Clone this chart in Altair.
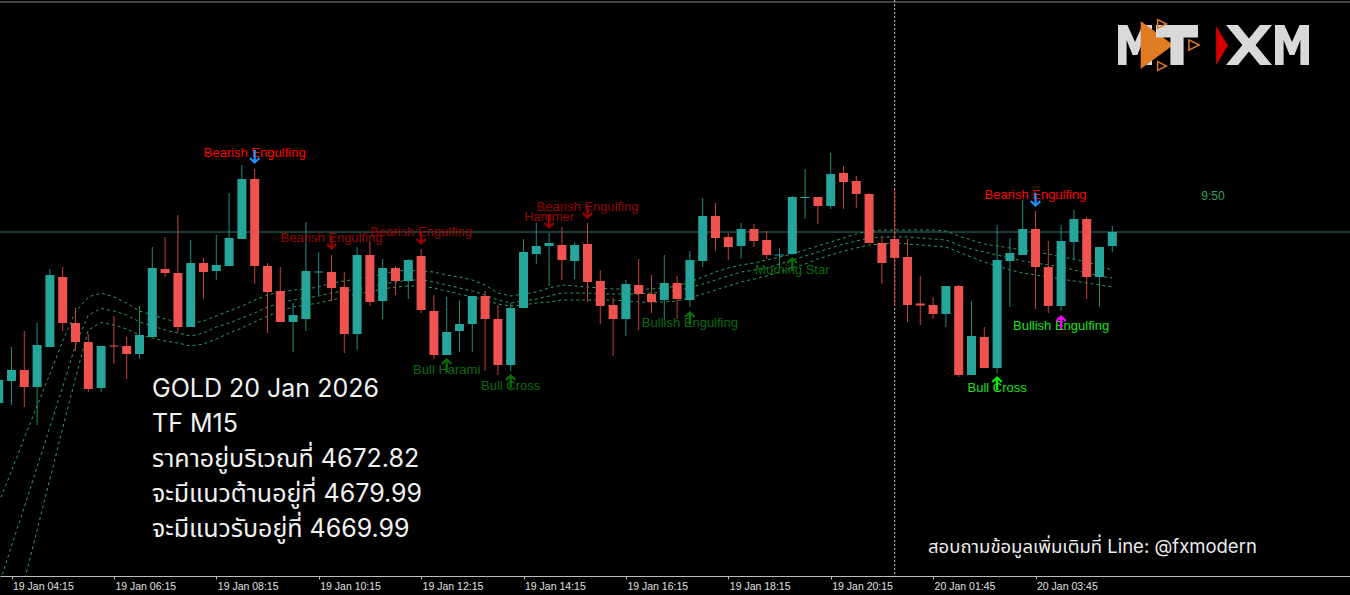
import altair as alt
import pandas as pd

# ---------------------------------------------------------------------------
# GOLD, M15 bars. Bar index 0 = 19 Jan 04:15; index -1 is the bar cut by the left edge.
# ---------------------------------------------------------------------------
BAR_INDEX = list(range(-1, 87))

OPEN = [4630.07, 4635.57, 4638.32, 4634.07, 4644.07, 4661.57, 4650.07, 4645.32, 4633.82, 4644.45,
        4644.32, 4642.32, 4646.57, 4663.57, 4662.57, 4649.07, 4665.07, 4663.07, 4664.32, 4671.07,
        4686.07, 4664.32, 4658.07, 4650.32, 4651.07, 4662.70, 4662.82, 4659.07, 4647.32, 4667.07,
        4655.57, 4663.82, 4660.57, 4666.82, 4653.07, 4642.07, 4648.07, 4649.82, 4656.82, 4651.07,
        4639.57, 4653.82, 4667.32, 4669.32, 4669.57, 4665.57, 4669.82, 4660.57, 4654.57, 4651.07,
        4659.57, 4657.32, 4655.82, 4660.07, 4655.82, 4665.57, 4676.82, 4671.57, 4669.32, 4673.57,
        4670.82, 4666.95, 4667.32, 4681.32, 4681.57, 4679.32, 4687.57, 4685.57, 4682.32, 4670.07,
        4671.07, 4666.57, 4654.95, 4654.57, 4652.32, 4659.32, 4637.07, 4646.57, 4638.82, 4665.57,
        4667.07, 4673.57, 4664.07, 4654.32, 4670.32, 4676.07, 4661.57, 4669.32]

HIGH = [4636.82, 4644.07, 4648.07, 4650.07, 4663.57, 4664.07, 4653.82, 4647.32, 4644.32, 4651.82,
        4646.57, 4654.32, 4669.07, 4671.57, 4677.07, 4670.82, 4666.32, 4672.07, 4682.57, 4689.57,
        4688.57, 4665.07, 4664.07, 4655.07, 4675.32, 4667.82, 4667.07, 4662.82, 4669.07, 4670.32,
        4666.07, 4664.32, 4666.07, 4668.57, 4657.07, 4656.57, 4655.82, 4656.82, 4658.07, 4654.57,
        4655.07, 4671.07, 4675.07, 4672.57, 4674.07, 4670.32, 4675.07, 4663.32, 4656.32, 4660.82,
        4666.07, 4662.07, 4667.07, 4661.82, 4668.07, 4681.32, 4680.07, 4672.57, 4675.07, 4674.82,
        4673.07, 4668.82, 4681.82, 4688.57, 4681.57, 4692.57, 4689.32, 4686.82, 4682.57, 4671.57,
        4683.57, 4671.07, 4661.82, 4656.57, 4659.32, 4659.57, 4655.57, 4649.07, 4674.57, 4671.32,
        4680.82, 4678.07, 4670.57, 4674.57, 4678.32, 4676.57, 4669.07, 4674.32]

LOW = [4628.32, 4629.57, 4629.07, 4624.57, 4644.07, 4648.07, 4643.07, 4632.82, 4632.82, 4639.82,
       4636.07, 4641.07, 4646.57, 4661.57, 4647.82, 4649.07, 4656.07, 4660.82, 4664.32, 4671.07,
       4659.82, 4647.57, 4650.32, 4642.82, 4648.07, 4657.07, 4655.57, 4642.57, 4643.32, 4654.32,
       4651.07, 4657.07, 4656.07, 4652.57, 4641.07, 4642.07, 4642.82, 4642.82, 4638.07, 4637.07,
       4638.07, 4653.82, 4664.82, 4659.32, 4660.82, 4661.07, 4655.32, 4649.82, 4641.82, 4646.82,
       4648.32, 4652.57, 4650.82, 4651.07, 4654.07, 4664.07, 4668.07, 4665.82, 4666.07, 4669.07,
       4666.07, 4664.07, 4667.32, 4676.07, 4674.82, 4678.57, 4678.57, 4678.82, 4670.07, 4659.82,
       4654.32, 4650.32, 4649.57, 4651.07, 4649.07, 4636.57, 4637.07, 4638.82, 4637.57, 4654.07,
       4667.07, 4653.57, 4652.57, 4653.07, 4665.82, 4656.07, 4654.07, 4667.82]

CLOSE = [4635.82, 4638.32, 4634.07, 4644.57, 4662.07, 4650.07, 4645.32, 4633.57, 4644.32, 4644.20,
         4642.32, 4647.07, 4663.82, 4662.57, 4649.07, 4665.07, 4662.82, 4664.57, 4671.32, 4686.07,
         4664.32, 4657.82, 4650.32, 4652.07, 4663.07, 4662.95, 4658.82, 4647.32, 4667.07, 4655.32,
         4663.82, 4660.57, 4665.82, 4653.32, 4642.07, 4647.82, 4649.82, 4656.82, 4651.07, 4639.57,
         4653.82, 4667.82, 4669.32, 4670.07, 4665.82, 4669.57, 4660.32, 4654.32, 4651.07, 4659.82,
         4657.32, 4655.32, 4660.07, 4656.07, 4665.82, 4676.82, 4671.32, 4669.07, 4673.57, 4670.57,
         4667.07, 4667.20, 4681.57, 4681.57, 4679.32, 4687.32, 4685.32, 4682.32, 4670.07, 4665.07,
         4666.32, 4654.57, 4654.45, 4652.32, 4659.32, 4637.07, 4646.82, 4638.82, 4665.82, 4667.57,
         4673.57, 4664.07, 4654.32, 4670.57, 4676.07, 4661.57, 4669.07, 4672.82]

# Envelope bands (upper / middle / lower), one value per bar
BAND_UPPER = [4605.07, 4613.07, 4621.32, 4629.32, 4637.32, 4645.57, 4652.82, 4656.57, 4657.57, 4656.57,
              4655.07, 4653.07, 4652.07, 4651.07, 4650.32, 4649.82, 4650.57, 4651.82, 4653.07, 4654.32,
              4655.82, 4657.07, 4657.82, 4658.32, 4658.57, 4659.07, 4660.07, 4660.57, 4661.07, 4661.57,
              4662.32, 4663.07, 4663.20, 4663.07, 4662.82, 4662.07, 4661.57, 4660.82, 4659.57, 4657.57,
              4656.82, 4657.32, 4657.82, 4658.82, 4659.57, 4659.32, 4659.07, 4658.82, 4658.57, 4658.57,
              4658.57, 4658.57, 4658.82, 4659.32, 4660.32, 4661.57, 4662.82, 4663.82, 4664.57, 4665.07,
              4665.82, 4666.57, 4667.32, 4668.32, 4669.32, 4670.32, 4671.32, 4672.32, 4673.07, 4673.32,
              4673.32, 4673.32, 4673.32, 4673.32, 4673.07, 4671.82, 4670.82, 4669.82, 4669.32, 4668.82,
              4668.32, 4667.82, 4667.32, 4666.57, 4666.07, 4665.32, 4664.32, 4663.32]

BAND_MIDDLE = [4584.32, 4594.32, 4604.07, 4614.07, 4624.07, 4634.07, 4644.57, 4652.07, 4653.70, 4653.07,
               4652.07, 4650.32, 4649.32, 4648.32, 4647.57, 4646.82, 4647.57, 4649.07, 4650.07, 4651.32,
               4652.57, 4654.07, 4655.07, 4655.82, 4656.32, 4656.82, 4657.57, 4658.07, 4658.57, 4659.07,
               4659.82, 4660.32, 4660.82, 4660.82, 4660.32, 4659.57, 4658.82, 4658.07, 4657.07, 4655.82,
               4655.07, 4655.57, 4656.07, 4656.82, 4657.57, 4657.57, 4657.57, 4657.32, 4657.32, 4657.32,
               4657.32, 4657.57, 4657.82, 4658.32, 4658.82, 4659.82, 4660.82, 4661.82, 4662.82, 4663.32,
               4663.82, 4664.82, 4665.82, 4666.82, 4667.82, 4668.82, 4669.82, 4670.57, 4671.32, 4671.57,
               4671.57, 4671.57, 4671.32, 4671.07, 4670.82, 4669.57, 4668.57, 4667.82, 4667.07, 4666.32,
               4665.57, 4665.07, 4664.57, 4664.07, 4663.32, 4662.57, 4661.82, 4661.32]

BAND_LOWER = [4560.07, 4572.82, 4585.57, 4598.32, 4611.07, 4623.82, 4636.32, 4648.32, 4650.20, 4649.57,
              4648.57, 4647.07, 4646.32, 4645.57, 4645.07, 4644.32, 4644.82, 4646.07, 4647.57, 4648.82,
              4650.32, 4651.82, 4653.07, 4654.07, 4654.57, 4655.07, 4655.82, 4656.57, 4657.32, 4657.82,
              4658.57, 4659.07, 4659.32, 4659.32, 4658.82, 4658.07, 4657.32, 4656.57, 4655.82, 4654.82,
              4654.32, 4654.57, 4655.07, 4655.32, 4655.82, 4655.82, 4655.82, 4655.82, 4655.82, 4655.57,
              4655.32, 4655.32, 4655.32, 4655.57, 4656.32, 4657.32, 4658.32, 4659.32, 4660.32, 4661.07,
              4661.82, 4662.82, 4663.82, 4664.82, 4666.07, 4667.07, 4668.07, 4668.82, 4669.57, 4669.82,
              4670.07, 4669.82, 4669.57, 4669.32, 4669.07, 4667.82, 4666.57, 4665.32, 4664.32, 4663.32,
              4662.57, 4662.07, 4661.57, 4661.07, 4660.57, 4660.07, 4659.57, 4659.07]

# Candle-pattern signals
PATTERN_LABEL = ["Bearish Engulfing", "Bearish Engulfing", "Bearish Engulfing", "Hammer",
                 "Bearish Engulfing", "Bull Harami", "Bull Cross", "Bullish Engulfing",
                 "Morning Star", "Bearish Engulfing", "Bull Cross", "Bullish Engulfing"]
PATTERN_BAR = [19, 25, 32, 42, 45, 34, 39, 53, 61, 80, 77, 82]
PATTERN_SIDE = ["sell", "sell", "sell", "sell", "sell", "buy", "buy", "buy", "buy", "sell", "buy", "buy"]
PATTERN_STATE = ["fresh", "old", "old", "old", "old", "old", "old", "old", "old", "fresh", "fresh", "fresh"]
PATTERN_KIND = ["engulf", "engulf", "engulf", "hammer", "engulf", "harami", "cross", "engulf",
                "star", "engulf", "cross", "engulf"]
PATTERN_LABEL_PRICE = [4692.57, 4671.32, 4672.70, 4676.45, 4679.07, 4638.32, 4634.20, 4650.07,
                       4663.32, 4682.07, 4633.70, 4649.20]
PATTERN_ARROW_PRICE = [4691.57, 4670.07, 4671.32, 4675.32, 4677.82, 4639.57, 4635.57, 4651.32,
                       4664.82, 4680.82, 4635.07, 4650.32]

BID_PRICE = [4672.82]
DAY_START_BAR = [69]

TICK_BARS = [0, 8, 16, 24, 32, 40, 48, 56, 64, 72, 80]
TICK_LABELS = ["19 Jan 04:15", "19 Jan 06:15", "19 Jan 08:15", "19 Jan 10:15", "19 Jan 12:15",
               "19 Jan 14:15", "19 Jan 16:15", "19 Jan 18:15", "19 Jan 20:15", "20 Jan 01:45",
               "20 Jan 03:45"]

INFO_LINES = ["GOLD 20 Jan 2026", "TF M15", "ราคาอยู่บริเวณที่ 4672.82",
              "จะมีแนวต้านอยู่ที่ 4679.99", "จะมีแนวรับอยู่ที่ 4669.99"]
FOOTER = "สอบถามข้อมูลเพิ่มเติมที่ Line: @fxmodern"
COUNTDOWN = "9:50"

# ---------------------------------------------------------------------------
# Styling
# ---------------------------------------------------------------------------
W, H = 1350, 576
TEAL, RED = "#26a69a", "#ef5350"
TEAL_WICK, RED_WICK = "#1f8a80", "#c2403d"
BAND_COLOR = "#2e9d5e"
THAI_FONT = "Inter, 'Noto Sans Thai', 'Noto Sans', sans-serif"
LABEL_FONT = "Liberation Sans"

TEXT_COLORS = {("sell", "fresh"): "#ff0000", ("sell", "old"): "#9a0000",
               ("buy", "fresh"): "#19e019", ("buy", "old"): "#0b6e0b"}
ARROW_COLORS = {("sell", "fresh"): "#1e90ff", ("sell", "old"): "#9a0000",
                ("buy", "old"): "#0b6e0b", ("buy", "fresh"): "#00ee00"}
ARROW_DOWN = ("M-0.16,-1 L0.16,-1 L0.16,0.42 L0.56,0.02 L0.78,0.24 L0,1 "
              "L-0.78,0.24 L-0.56,0.02 L-0.16,0.42 Z")
ARROW_UP = ("M-0.16,1 L0.16,1 L0.16,-0.42 L0.56,-0.02 L0.78,-0.24 L0,-1 "
            "L-0.78,-0.24 L-0.56,-0.02 L-0.16,-0.42 Z")

bars = pd.DataFrame({"k": BAR_INDEX, "open": OPEN, "high": HIGH, "low": LOW, "close": CLOSE})
rising = bars["close"] >= bars["open"]
bars["body_color"] = rising.map({True: TEAL, False: RED})
bars["wick_color"] = rising.map({True: TEAL_WICK, False: RED_WICK})

bands = pd.concat([
    pd.DataFrame({"k": BAR_INDEX, "value": BAND_UPPER, "band": "upper"}),
    pd.DataFrame({"k": BAR_INDEX, "value": BAND_MIDDLE, "band": "middle"}),
    pd.DataFrame({"k": BAR_INDEX, "value": BAND_LOWER, "band": "lower"}),
])

signals = pd.DataFrame({"k": PATTERN_BAR, "label": PATTERN_LABEL, "side": PATTERN_SIDE,
                        "state": PATTERN_STATE, "kind": PATTERN_KIND,
                        "label_price": PATTERN_LABEL_PRICE, "arrow_price": PATTERN_ARROW_PRICE})
signals["text_color"] = [TEXT_COLORS[(s, t)] for s, t in zip(signals.side, signals.state)]
signals["arrow_color"] = [
    "#ff00ff" if (s == "buy" and t == "fresh" and kd == "engulf") else ARROW_COLORS[(s, t)]
    for s, t, kd in zip(signals.side, signals.state, signals.kind)]
signals["arrow_shape"] = signals["side"].map({"sell": ARROW_DOWN, "buy": ARROW_UP})

bid = pd.DataFrame({"price": BID_PRICE})
day_start = pd.DataFrame({"k": DAY_START_BAR})
one = pd.DataFrame({"row": [0]})

# ---------------------------------------------------------------------------
# Scales and axis
# ---------------------------------------------------------------------------
BAR_STEP = 12.8
X0 = -11.5 / BAR_STEP
xs = alt.Scale(domain=[X0, X0 + W / BAR_STEP], nice=False, zero=False, padding=0)
ys = alt.Scale(domain=[4586.82, 4730.82], nice=False, zero=False, padding=0)

label_lookup = "[" + ",".join("'" + t + "'" for t in TICK_LABELS) + "]"
x_axis = alt.Axis(values=TICK_BARS, labelExpr=label_lookup + "[round(datum.value / 8)]",
                  labelAlign="left", labelBaseline="top", labelPadding=2, labelOffset=1,
                  labelColor="#e0e0e0", labelFont=LABEL_FONT, labelFontSize=10.5,
                  tickColor="#bdbdbd", tickSize=3, domainColor="#bdbdbd", domainWidth=1,
                  grid=False, title=None, labelOverlap=False, labelBound=False, labelFlush=False)

X = alt.X("k:Q", scale=xs, axis=x_axis)

# ---------------------------------------------------------------------------
# Layers
# ---------------------------------------------------------------------------
frame_top = alt.Chart(one).mark_rule(color="#8a8a8a", strokeWidth=1).encode(
    x=alt.value(0), x2=alt.value(W), y=alt.value(2))

bid_line = alt.Chart(bid).mark_rule(color="#2f7a76", strokeWidth=1).encode(
    y=alt.Y("price:Q", scale=ys, axis=None))

separator = alt.Chart(day_start).mark_rule(color="#c4c4c4", strokeWidth=1,
                                           strokeDash=[2, 2]).encode(x=X)

band_lines = alt.Chart(bands).mark_line(color=BAND_COLOR, strokeWidth=1, strokeDash=[3, 3],
                                        clip=True).encode(
    x=X, y=alt.Y("value:Q", scale=ys, axis=None), detail="band:N")

wicks = alt.Chart(bars).mark_rule(strokeWidth=1, clip=True).encode(
    x=X, y=alt.Y("low:Q", scale=ys, axis=None), y2="high:Q",
    color=alt.Color("wick_color:N", scale=None))

bodies = alt.Chart(bars).mark_bar(size=9, clip=True).encode(
    x=X, y=alt.Y("open:Q", scale=ys, axis=None), y2="close:Q",
    color=alt.Color("body_color:N", scale=None))

signal_text = alt.Chart(signals).mark_text(font=LABEL_FONT, fontSize=13, align="center",
                                           baseline="middle").encode(
    x=X, y=alt.Y("label_price:Q", scale=ys, axis=None), text="label:N",
    color=alt.Color("text_color:N", scale=None))

signal_arrows = alt.Chart(signals).mark_point(filled=True, size=200, opacity=1).encode(
    x=X, y=alt.Y("arrow_price:Q", scale=ys, axis=None),
    shape=alt.Shape("arrow_shape:N", scale=None),
    color=alt.Color("arrow_color:N", scale=None))

countdown = alt.Chart(one).mark_text(font=LABEL_FONT, fontSize=12, color="#35a25f",
                                     align="center", baseline="middle").encode(
    x=alt.value(1213), y=alt.value(196), text=alt.value(COUNTDOWN))

info = alt.Chart(one).mark_text(font=THAI_FONT, fontSize=25, color="#f2f2f2", align="left",
                                baseline="alphabetic", lineHeight=35).encode(
    x=alt.value(152), y=alt.value(397), text=alt.value(INFO_LINES))

footer = alt.Chart(one).mark_text(font=THAI_FONT, fontSize=18.5, color="#ececec", align="left",
                                  baseline="alphabetic").encode(
    x=alt.value(928), y=alt.value(553), text=alt.value(FOOTER))

# Logo: "MT" with orange play marks, "XM" with red play mark
LOGO_GREY = "#d9d9d9"
M_PATH = ("M-0.85,1 L-0.85,-1 L-0.38,-1 L0,-0.15 L0.38,-1 L0.85,-1 L0.85,1 L0.42,1 "
          "L0.42,-0.25 L0.12,0.5 L-0.12,0.5 L-0.42,-0.25 L-0.42,1 Z")
T_PATH = "M-1.05,-1 L1.05,-1 L1.05,-0.38 L0.33,-0.38 L0.33,1 L-0.33,1 L-0.33,-0.38 L-1.05,-0.38 Z"
X_PATH = ("M-1.15,-1 L-0.55,-1 L0,-0.32 L0.55,-1 L1.15,-1 L0.33,0 L1.15,1 L0.55,1 L0,0.32 "
          "L-0.55,1 L-1.15,1 L-0.33,0 Z")
PLAY_PATH = "M-0.68,-1 L0.68,0 L-0.68,1 Z"
SLIM_PLAY_PATH = "M-0.3,-1 L0.3,0 L-0.3,1 Z"
OUTLINE_PLAY_PATH = "M-0.8,-0.8 L0.8,0 L-0.8,0.8 Z"


def glyph(path, cx, cy, size, color, filled=True, stroke_width=1.5):
    kw = dict(shape=path, size=size, opacity=1)
    if filled:
        kw.update(filled=True, color=color)
    else:
        kw.update(filled=False, color=color, strokeWidth=stroke_width)
    return alt.Chart(one).mark_point(**kw).encode(x=alt.value(cx), y=alt.value(cy))


logo = [
    glyph(M_PATH, 1135, 45, 1600, LOGO_GREY),
    glyph(PLAY_PATH, 1157, 45, 2300, "#e07b24"),
    glyph(T_PATH, 1177, 45, 1600, LOGO_GREY),
    glyph(OUTLINE_PLAY_PATH, 1162, 24, 120, "#e07b24", filled=False),
    glyph(OUTLINE_PLAY_PATH, 1194, 45, 160, "#e07b24", filled=False),
    glyph(OUTLINE_PLAY_PATH, 1162, 66, 120, "#e07b24", filled=False),
    glyph(X_PATH, 1249, 45, 1600, LOGO_GREY),
    glyph(M_PATH, 1292, 45, 1600, LOGO_GREY),
    glyph(SLIM_PLAY_PATH, 1222, 45.5, 1521, "#d40000"),
]

chart = alt.layer(
    frame_top, bid_line, separator, band_lines, wicks, bodies,
    signal_text, signal_arrows, countdown, info, footer, *logo,
).properties(
    width=W, height=H, background="#000000",
    padding={"left": 0, "right": 0, "top": 0, "bottom": 19},
    autosize=alt.AutoSizeParams(type="none"),
).configure_view(stroke=None)

chart.save("out.html", embed_options={"renderer": "svg", "actions": False})
